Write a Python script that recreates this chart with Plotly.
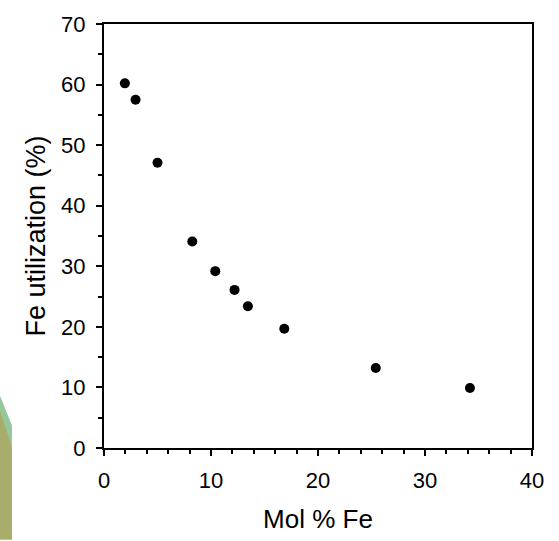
import plotly.graph_objects as go

mol_fe = [1.95, 2.95, 5.0, 8.25, 10.4, 12.2, 13.45, 16.85, 25.4, 34.2]
fe_util = [60.2, 57.5, 47.1, 34.1, 29.2, 26.1, 23.4, 19.7, 13.2, 9.9]

FONT = "Liberation Sans, Arial, sans-serif"

fig = go.Figure()
fig.add_trace(go.Scatter(
    x=mol_fe, y=fe_util, mode="markers",
    marker=dict(color="black", size=10),
    showlegend=False,
))

axis_common = dict(
    showgrid=False, zeroline=False,
    showline=True, linecolor="black", linewidth=2, mirror=True,
    ticks="outside", tickcolor="black", tickwidth=2, ticklen=6,
    tickfont=dict(family=FONT, size=22, color="black"),
)

fig.update_xaxes(
    range=[0, 40], dtick=10, tick0=0, ticklabelstandoff=6,
    title=dict(text="Mol % Fe", font=dict(family=FONT, size=26, color="black"), standoff=17),
    minor=dict(dtick=2, ticks="outside", ticklen=4, tickcolor="black", tickwidth=1.5),
    **axis_common,
)
fig.update_yaxes(
    range=[0, 70], dtick=10, tick0=0, ticklabelstandoff=6,
    title=dict(text="Fe utilization (%)", font=dict(family=FONT, size=27, color="black"), standoff=8),
    minor=dict(dtick=5, ticks="outside", ticklen=4, tickcolor="black", tickwidth=1.5),
    **axis_common,
)

fig.update_layout(
    width=559, height=541,
    margin=dict(l=104, r=27, t=18, b=93),
    plot_bgcolor="white", paper_bgcolor="white",
    shapes=[
        dict(type="path", xref="paper", yref="paper", layer="below",
             path="M -0.243 0.123 L -0.215 0.053 L -0.215 -0.216 L -0.243 -0.216 Z",
             fillcolor="#96c79c", line=dict(width=0)),
        dict(type="path", xref="paper", yref="paper", layer="below",
             path="M -0.243 0.088 L -0.215 0.002 L -0.215 -0.216 L -0.243 -0.216 Z",
             fillcolor="#a9ad6c", line=dict(width=0)),
    ],
)

fig.write_html("out.html")
